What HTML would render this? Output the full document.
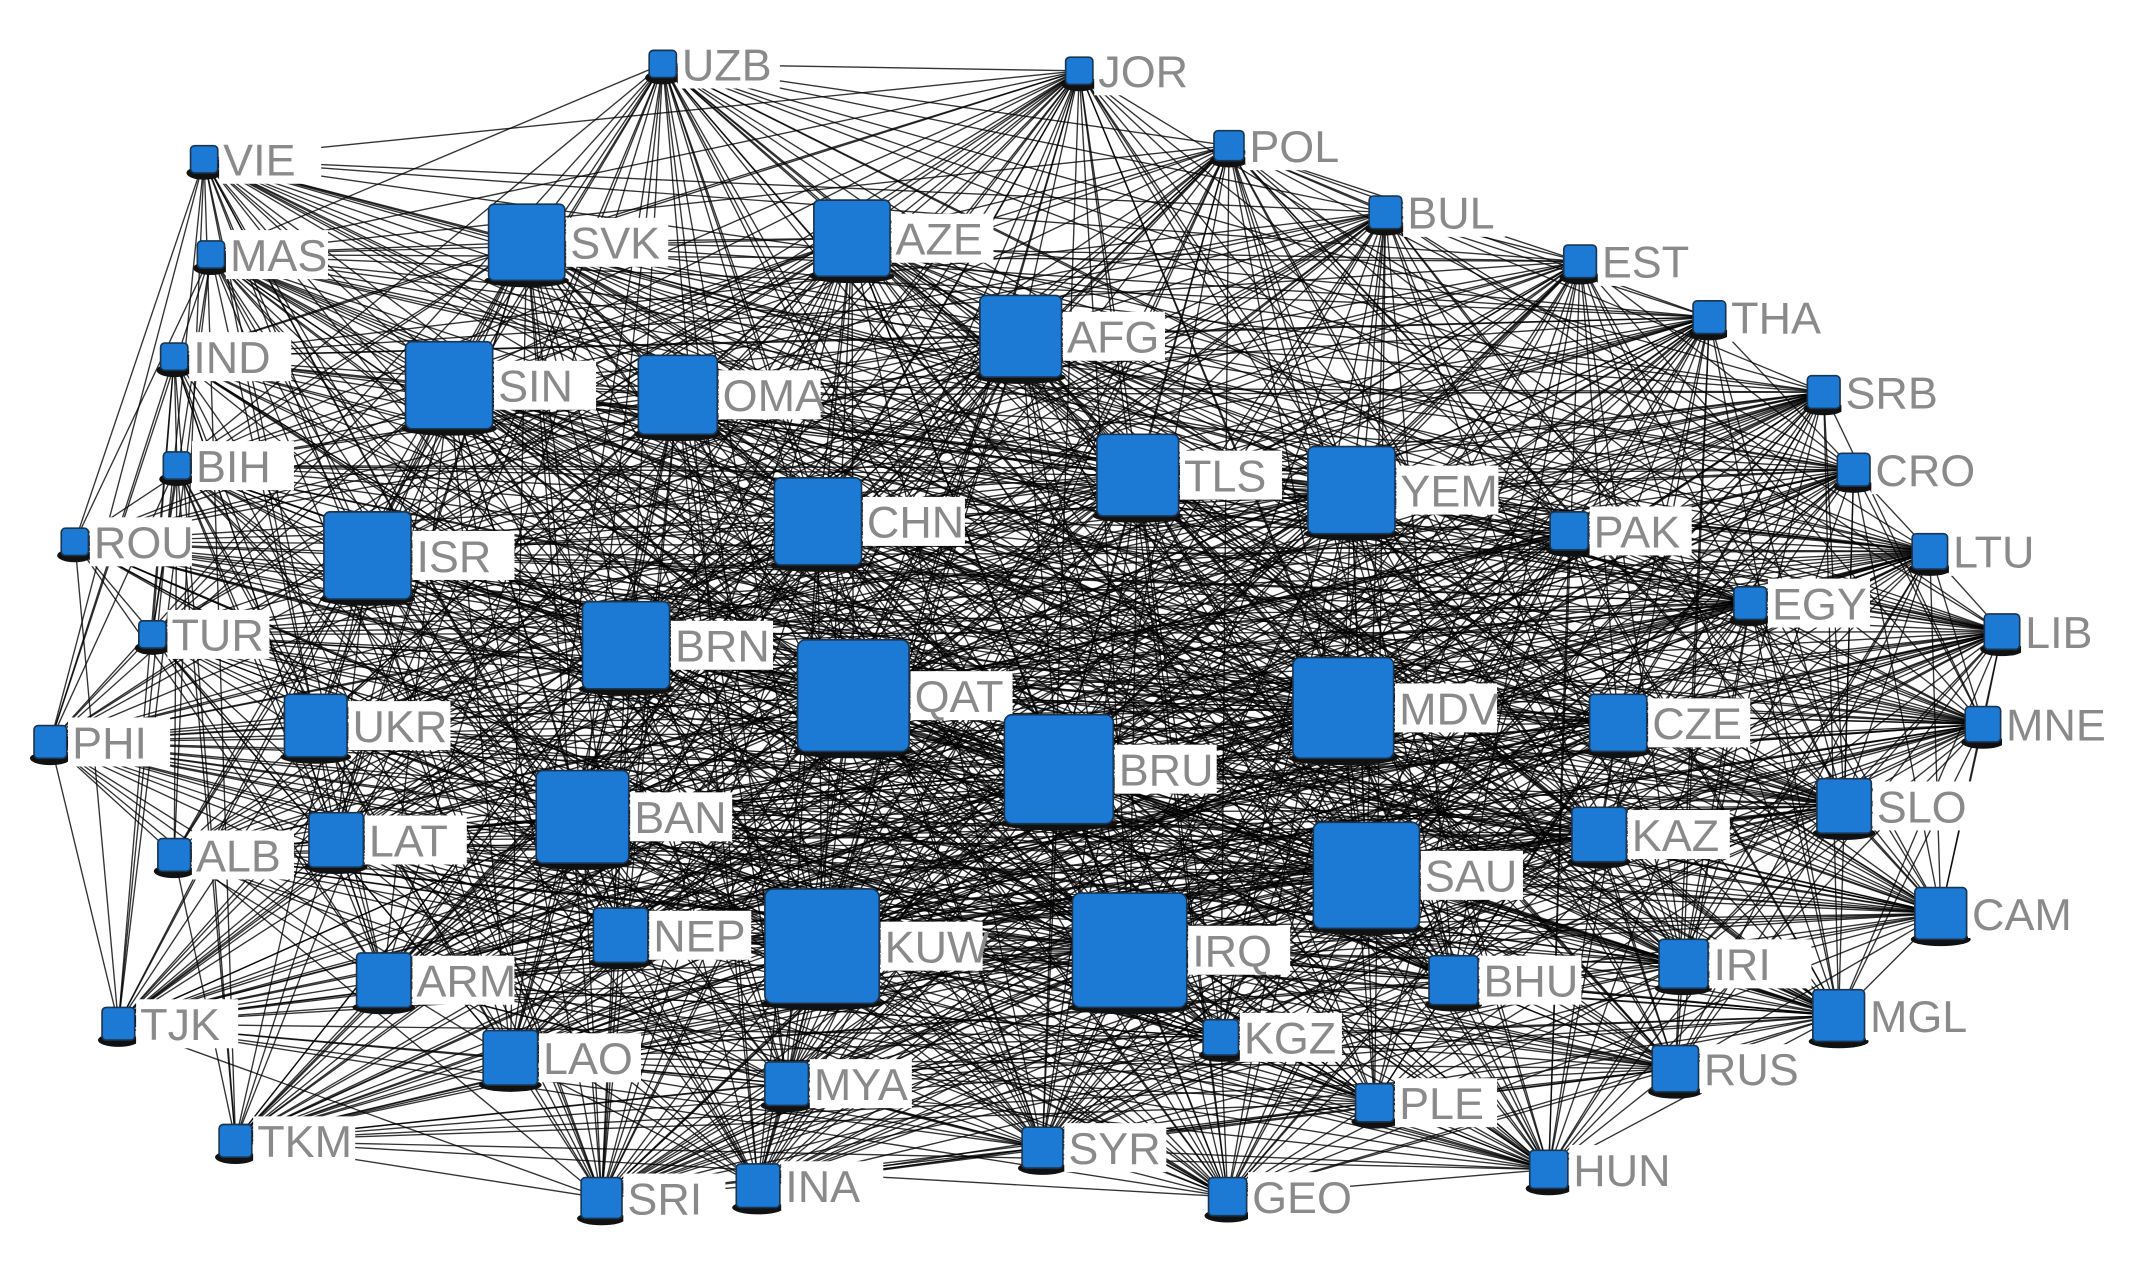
<!DOCTYPE html>
<html><head><meta charset="utf-8"><style>html,body{margin:0;padding:0;background:#fff}svg{display:block}text{font-family:"Liberation Sans",sans-serif;font-size:33px;fill:#8a8a8a}</style></head>
<body>
<svg id="s" width="2134" height="1262" viewBox="0 0 1568 927" preserveAspectRatio="none" xmlns="http://www.w3.org/2000/svg">
<rect width="1568" height="927" fill="#fff"/>
<g id="e" stroke="#000" stroke-width="1" stroke-opacity="0.8"></g>
<g id="b" fill="#fff"></g>
<g id="t">
<text x="501" y="59">UZB</text><text x="807" y="64">JOR</text><text x="164" y="129">VIE</text><text x="918" y="119">POL</text>
<text x="419" y="190">SVK</text><text x="658" y="187">AZE</text><text x="1034" y="168">BUL</text><text x="169" y="199">MAS</text>
<text x="1177" y="204">EST</text><text x="784" y="259">AFG</text><text x="1272" y="245">THA</text><text x="142" y="274">IND</text>
<text x="366" y="295">SIN</text><text x="531" y="302">OMA</text><text x="1356" y="300">SRB</text><text x="144" y="354">BIH</text>
<text x="870" y="361">TLS</text><text x="1029" y="372">YEM</text><text x="1378" y="357">CRO</text><text x="637" y="395">CHN</text>
<text x="306" y="420">ISR</text><text x="1171" y="402">PAK</text><text x="69" y="410">ROU</text><text x="1435" y="417">LTU</text>
<text x="1302" y="455">EGY</text><text x="496" y="486">BRN</text><text x="126" y="478">TUR</text><text x="1488" y="476">LIB</text>
<text x="672" y="523">QAT</text><text x="1028" y="532">MDV</text><text x="822" y="577">BRU</text><text x="1214" y="543">CZE</text>
<text x="1474" y="544">MNE</text><text x="259" y="545">UKR</text><text x="53" y="557">PHI</text><text x="466" y="612">BAN</text>
<text x="271" y="629">LAT</text><text x="144" y="640">ALB</text><text x="1199" y="625">KAZ</text><text x="1379" y="604">SLO</text>
<text x="1047" y="655">SAU</text><text x="1449" y="683">CAM</text><text x="480" y="699">NEP</text><text x="650" y="707">KUW</text>
<text x="876" y="710">IRQ</text><text x="306" y="732">ARM</text><text x="1090" y="732">BHU</text><text x="1259" y="720">IRI</text>
<text x="1374" y="758">MGL</text><text x="103" y="764">TJK</text><text x="914" y="774">KGZ</text><text x="399" y="789">LAO</text>
<text x="598" y="808">MYA</text><text x="1252" y="797">RUS</text><text x="1028" y="822">PLE</text><text x="189" y="850">TKM</text>
<text x="785" y="855">SYR</text><text x="1156" y="871">HUN</text><text x="577" y="883">INA</text><text x="461" y="892">SRI</text>
<text x="920" y="891">GEO</text>
</g>
<g id="n" fill="#1c7ad4" stroke="#1a3550" stroke-width="1.2"></g>
</svg>
<script>
var N=[[487,47,20],[793,52,20],[150,117,20],[903,107,22],[387,178,56],[626,175,56],[1018,156,24],[155,187,20],[1161,192,24],[750,247,60],[1256,233,24],[128,262,20],[330,283,64],[498,290,58],[1340,288,24],[130,342,20],[836,349,60],[993,360,64],[1362,345,24],[601,383,64],[270,408,64],[1153,390,28],[55,398,20],[1418,405,26],[1286,443,24],[460,474,64],[112,466,20],[1471,464,26],[627,511,82],[987,520,74],[778,565,80],[1189,531,42],[1457,532,26],[232,533,46],[37,545,24],[428,600,68],[247,617,40],[128,628,24],[1175,613,40],[1355,592,40],[1004,643,78],[1426,671,38],[456,687,40],[604,695,84],[830,698,84],[282,720,40],[1068,720,36],[1237,708,36],[1351,746,38],[87,752,24],[897,762,26],[375,777,40],[578,796,32],[1231,785,34],[1010,810,28],[173,838,24],[766,843,30],[1138,859,28],[557,871,32],[442,880,30],[902,879,28]];
var ns="http://www.w3.org/2000/svg",E=document.getElementById('e'),B=document.getElementById('b'),G=document.getElementById('n'),T=document.querySelectorAll('#t text');
var seed=7;function r(){seed=(seed*16807)%2147483647;return seed/2147483647;}
function mk(t,a,p){var el=document.createElementNS(ns,t);for(var k in a)el.setAttribute(k,a[k]);p.appendChild(el);}
for(var i=0;i<N.length;i++)for(var j=i+1;j<N.length;j++){
 var p=0.32+0.005*(N[i][2]+N[j][2]);
 if(r()<p)mk('line',{x1:N[i][0],y1:N[i][1],x2:N[j][0],y2:N[j][1]},E);}
for(var i=0;i<N.length;i++){var n=N[i];
 mk('ellipse',{cx:n[0],cy:n[1]+n[2]/2,rx:n[2]/2+3,ry:5,fill:'#111',stroke:'none'},E);}
for(var i=0;i<N.length;i++){var n=N[i],t=T[i];
 var w=t.textContent.length*23+6;
 mk('rect',{x:+t.getAttribute('x')-3,y:+t.getAttribute('y')-30,width:w,height:36},B);
 mk('rect',{x:n[0]-n[2]/2,y:n[1]-n[2]/2,width:n[2],height:n[2],rx:Math.max(3,n[2]/14)},G);}
</script>
</body></html>
